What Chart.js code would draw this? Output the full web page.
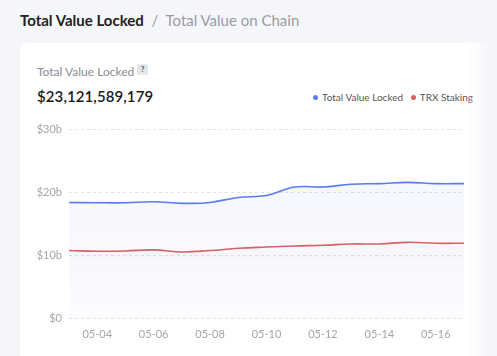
<!DOCTYPE html>
<html><head><meta charset="utf-8">
<script src="https://cdn.jsdelivr.net/npm/chart.js@4"></script>
<style>
html,body{margin:0;padding:0;width:497px;height:356px;overflow:hidden;background:#f5f6fa;font-family:Lato,"Open Sans",sans-serif;}
#title{position:absolute;left:20px;top:11px;font-size:15px;white-space:nowrap;}
#title b{color:#222;font-weight:700;}
#title span{color:#9a9ca3;}
#card{position:absolute;left:20px;top:43px;width:468px;height:330px;background:#fff;border-radius:6px;}
#fade{position:absolute;left:466px;top:43px;width:22px;height:330px;background:linear-gradient(to right,rgba(245,246,250,0),rgba(245,246,250,0.9));}
#sub{position:absolute;left:37px;top:64px;font-size:12px;color:#8a8c93;}
#help{position:absolute;left:137px;top:64px;width:11px;height:11px;background:#e6e7ea;border-radius:2px;font-size:8px;font-weight:700;color:#555;text-align:center;line-height:11px;}
#big{position:absolute;left:37px;top:87px;font-size:15px;font-weight:600;color:#1a1a1a;letter-spacing:0.1px;}
#legend{position:absolute;left:313px;top:91px;font-size:10px;color:#555;white-space:nowrap;}
.dot{display:inline-block;width:5px;height:5px;border-radius:50%;margin-right:4px;vertical-align:1px;}
#wrap{position:absolute;left:20px;top:116px;width:454px;height:232px;}
</style></head><body>
<div id="title"><b>Total Value Locked</b><span>&nbsp;&nbsp;/&nbsp;&nbsp;Total Value on Chain</span></div>
<div id="card"></div>
<div id="sub">Total Value Locked</div>
<div id="help">?</div>
<div id="big">$23,121,589,179</div>
<div id="legend"><span class="dot" style="background:#5b7bef"></span>Total Value Locked&nbsp;&nbsp;&nbsp;<span class="dot" style="background:#d9605f"></span>TRX Staking</div>
<div id="wrap"><canvas id="c"></canvas></div>
<div id="fade"></div>
<script>
const dates = ["05-03","05-04","05-05","05-06","05-07","05-08","05-09","05-10","05-11","05-12","05-13","05-14","05-15","05-16","05-17"];
const tvl = [18.4,18.35,18.35,18.5,18.26,18.4,19.2,19.5,20.85,20.85,21.3,21.4,21.6,21.4,21.4];
const trxStaking = [10.74,10.63,10.68,10.84,10.52,10.74,11.1,11.3,11.47,11.58,11.79,11.79,12.05,11.9,11.9];
const yTicks = [0,10,20,30];

function grad(ctx, area, c1, c2){
  const g = ctx.createLinearGradient(0, area.top, 0, area.bottom);
  g.addColorStop(0, c1); g.addColorStop(1, c2); return g;
}
new Chart(document.getElementById('c'), {
  type:'line',
  data:{labels:dates, datasets:[
    {label:'Total Value Locked', data:tvl, borderColor:'#5b7bef', borderWidth:1.6, pointRadius:0, tension:0.4, fill:'origin',
     backgroundColor:(c)=>{const a=c.chart.chartArea; if(!a) return 'rgba(91,123,239,0.05)'; return grad(c.chart.ctx,a,'rgba(91,123,239,0.08)','rgba(91,123,239,0.02)');}},
    {label:'TRX Staking', data:trxStaking, borderColor:'#d9605f', borderWidth:1.6, pointRadius:0, tension:0.4, fill:'origin',
     backgroundColor:(c)=>{const a=c.chart.chartArea; if(!a) return 'rgba(217,96,95,0.05)'; return grad(c.chart.ctx,a,'rgba(217,96,95,0.07)','rgba(217,96,95,0.0)');}}
  ]},
  options:{
    responsive:true, maintainAspectRatio:false, animation:false,
    layout:{padding:{top:5,right:2,left:0,bottom:0}},
    plugins:{legend:{display:false}, tooltip:{enabled:false}},
    scales:{
      x:{grid:{display:false, drawTicks:false}, border:{display:false},
         ticks:{autoSkip:false, maxRotation:0, padding:10, color:'#a3a5ab', font:{family:'Lato', size:11},
           callback:function(v,i){return i%2===1 ? dates[i] : '';}},
         afterFit:(s)=>{s.height=30;}},
      y:{min:0, max:30, border:{display:false, dash:[3,3]},
         afterBuildTicks:(s)=>{s.ticks=yTicks.map(v=>({value:v}));},
         grid:{color:'#e0e1e5', lineWidth:1, drawTicks:false},
         ticks:{padding:7, color:'#a3a5ab', font:{family:'Lato', size:11},
           callback:(v)=> v===0 ? '$0' : '$'+v+'b'},
         afterFit:(s)=>{s.width=49;}}
    }
  }
});
</script>
</body></html>
